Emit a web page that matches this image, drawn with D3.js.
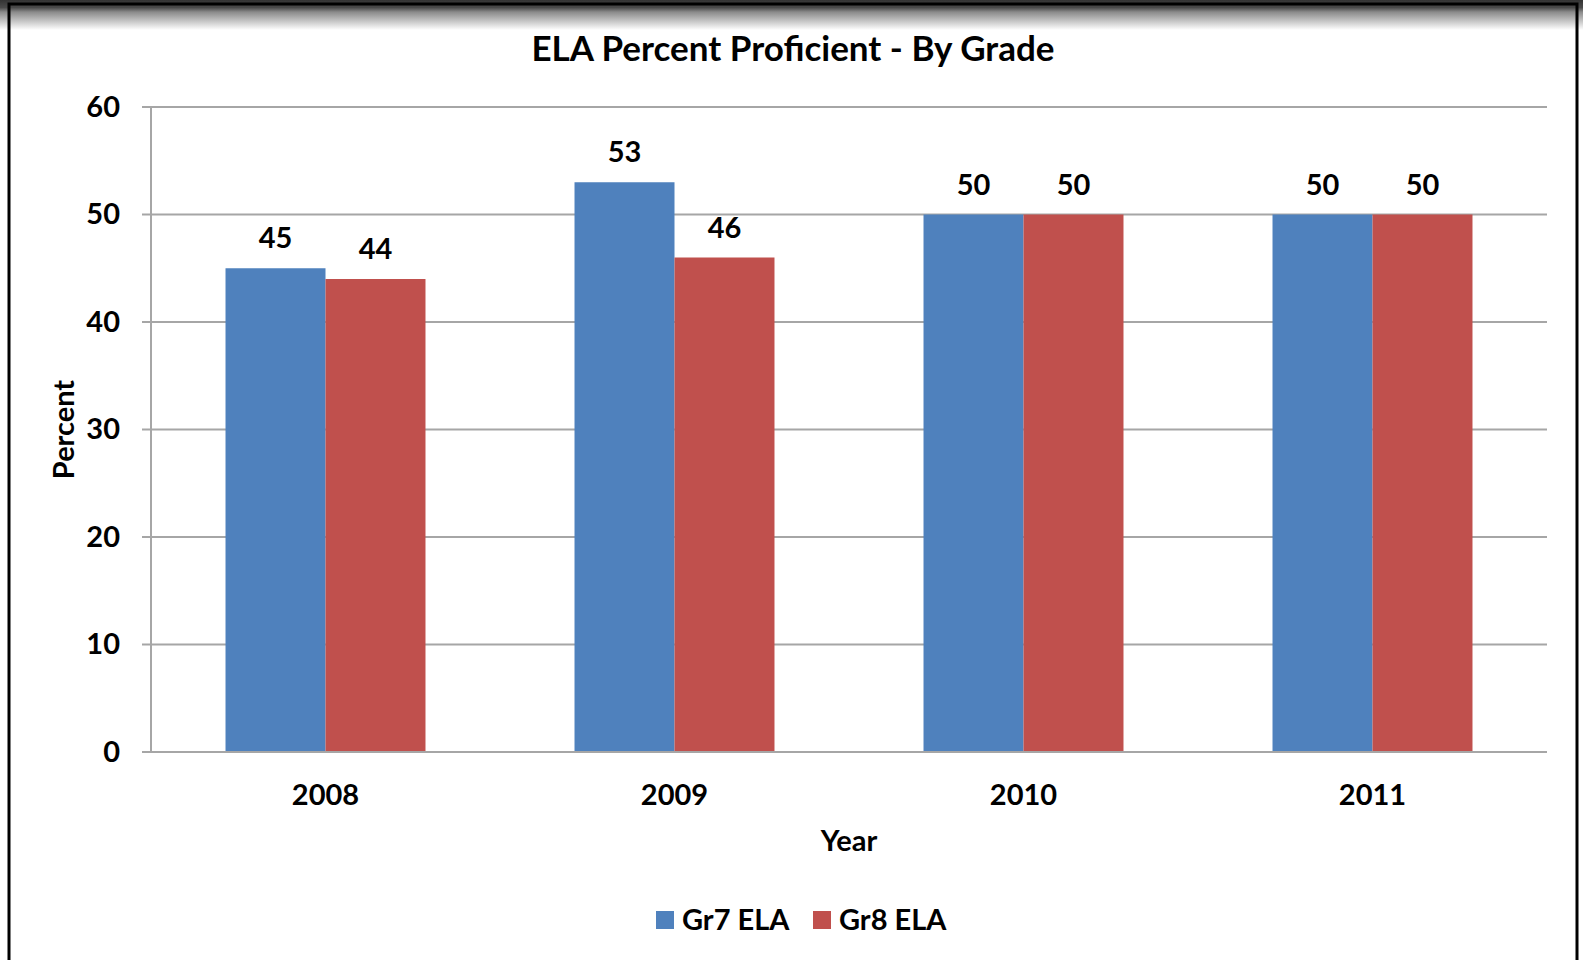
<!DOCTYPE html>
<html>
<head>
<meta charset="utf-8">
<script src="https://cdn.jsdelivr.net/npm/d3@7"></script>
<style>
  html, body { margin: 0; padding: 0; background: #fff; }
  svg { display: block; font-family: Lato, "Open Sans", sans-serif; font-weight: 700; }
</style>
</head>
<body>
<div id="chart"></div>
<script>
// Chart data
const years = ["2008", "2009", "2010", "2011"];
const seriesNames = ["Gr7 ELA", "Gr8 ELA"];
const gr7 = [45, 53, 50, 50];
const gr8 = [44, 46, 50, 50];
const yTicks = [0, 10, 20, 30, 40, 50, 60];
const colors = ["#4f81bd", "#c0504d"];

const width = 1583;
const height = 960;
const margin = { top: 107, right: 36, bottom: 208, left: 151 };
const plotW = width - margin.left - margin.right;
const plotH = height - margin.top - margin.bottom;
const labelSize = "29px";

const svg = d3.select("#chart")
  .append("svg")
  .attr("width", width)
  .attr("height", height);

// Dark band + gradient at the top of the frame
const defs = svg.append("defs");
const grad = defs.append("linearGradient")
  .attr("id", "topfade")
  .attr("x1", 0).attr("y1", 0).attr("x2", 0).attr("y2", 1);
grad.append("stop").attr("offset", "0%").attr("stop-color", "#333");
grad.append("stop").attr("offset", "25%").attr("stop-color", "#4a4a4a");
grad.append("stop").attr("offset", "40%").attr("stop-color", "#8a8a8a");
grad.append("stop").attr("offset", "100%").attr("stop-color", "#fff");

svg.append("rect")
  .attr("x", 0).attr("y", 0)
  .attr("width", width).attr("height", 30)
  .attr("fill", "url(#topfade)");

// Black frame
svg.append("path")
  .attr("d", "M9,960 V4 H1577 V960")
  .attr("fill", "none")
  .attr("stroke", "#000")
  .attr("stroke-width", 3);

const g = svg.append("g")
  .attr("transform", "translate(" + margin.left + "," + margin.top + ")");

// Scales
const x = d3.scaleBand()
  .domain(years)
  .range([0, plotW])
  .paddingInner(0.427)
  .paddingOuter(0.2135);

const x1 = d3.scaleBand()
  .domain(seriesNames)
  .range([0, x.bandwidth()]);

const y = d3.scaleLinear()
  .domain([0, 60])
  .range([plotH, 0]);

// Gridlines
g.selectAll(".grid")
  .data(yTicks)
  .enter()
  .append("line")
  .attr("x1", -9)
  .attr("x2", plotW)
  .attr("y1", d => y(d))
  .attr("y2", d => y(d))
  .attr("stroke", "#a6a6a6")
  .attr("stroke-width", 2);

// Y axis
const yAxis = g.append("g")
  .call(d3.axisLeft(y).tickValues(yTicks).tickSize(0).tickPadding(31));
yAxis.select(".domain").remove();
yAxis.selectAll("text")
  .style("font-family", "Lato, sans-serif")
  .style("font-weight", "700")
  .style("font-size", labelSize)
  .attr("fill", "#000");

g.append("line")
  .attr("x1", 0).attr("x2", 0)
  .attr("y1", 0).attr("y2", plotH)
  .attr("stroke", "#a6a6a6")
  .attr("stroke-width", 2);

// Bars
const series = [gr7, gr8];
const groups = g.selectAll(".year")
  .data(years)
  .enter()
  .append("g")
  .attr("transform", d => "translate(" + x(d) + ",0)");

groups.selectAll("rect")
  .data((d, i) => seriesNames.map((s, j) => ({ name: s, value: series[j][i], j: j })))
  .enter()
  .append("rect")
  .attr("x", d => x1(d.name))
  .attr("y", d => y(d.value))
  .attr("width", x1.bandwidth())
  .attr("height", d => plotH - y(d.value))
  .attr("fill", d => colors[d.j]);

// Value labels
groups.selectAll(".val")
  .data((d, i) => seriesNames.map((s, j) => ({ name: s, value: series[j][i] })))
  .enter()
  .append("text")
  .attr("x", d => x1(d.name) + x1.bandwidth() / 2)
  .attr("y", d => y(d.value) - 20)
  .attr("text-anchor", "middle")
  .style("font-size", labelSize)
  .text(d => d.value);

// Baseline
g.append("line")
  .attr("x1", -9).attr("x2", plotW)
  .attr("y1", plotH).attr("y2", plotH)
  .attr("stroke", "#a6a6a6")
  .attr("stroke-width", 2);

// X axis labels
g.selectAll(".xlab")
  .data(years)
  .enter()
  .append("text")
  .attr("x", d => x(d) + x.bandwidth() / 2)
  .attr("y", plotH + 53)
  .attr("text-anchor", "middle")
  .style("font-size", labelSize)
  .text(d => d);

// Axis titles
g.append("text")
  .attr("x", plotW / 2)
  .attr("y", plotH + 99)
  .attr("text-anchor", "middle")
  .style("font-size", labelSize)
  .text("Year");

svg.append("text")
  .attr("transform", "translate(74," + (margin.top + plotH / 2) + ") rotate(-90)")
  .attr("text-anchor", "middle")
  .style("font-size", labelSize)
  .text("Percent");

// Title
svg.append("text")
  .attr("x", 793)
  .attr("y", 61)
  .attr("text-anchor", "middle")
  .style("font-size", "35px")
  .text("ELA Percent Proficient - By Grade");

// Legend
const legend = svg.append("g")
  .attr("transform", "translate(656,911)");
const legendX = [0, 157];
seriesNames.forEach((s, i) => {
  legend.append("rect")
    .attr("x", legendX[i])
    .attr("y", 0)
    .attr("width", 18)
    .attr("height", 18)
    .attr("fill", colors[i]);
  legend.append("text")
    .attr("x", legendX[i] + 26)
    .attr("y", 19)
    .style("font-size", labelSize)
    .text(s);
});
</script>
</body>
</html>
